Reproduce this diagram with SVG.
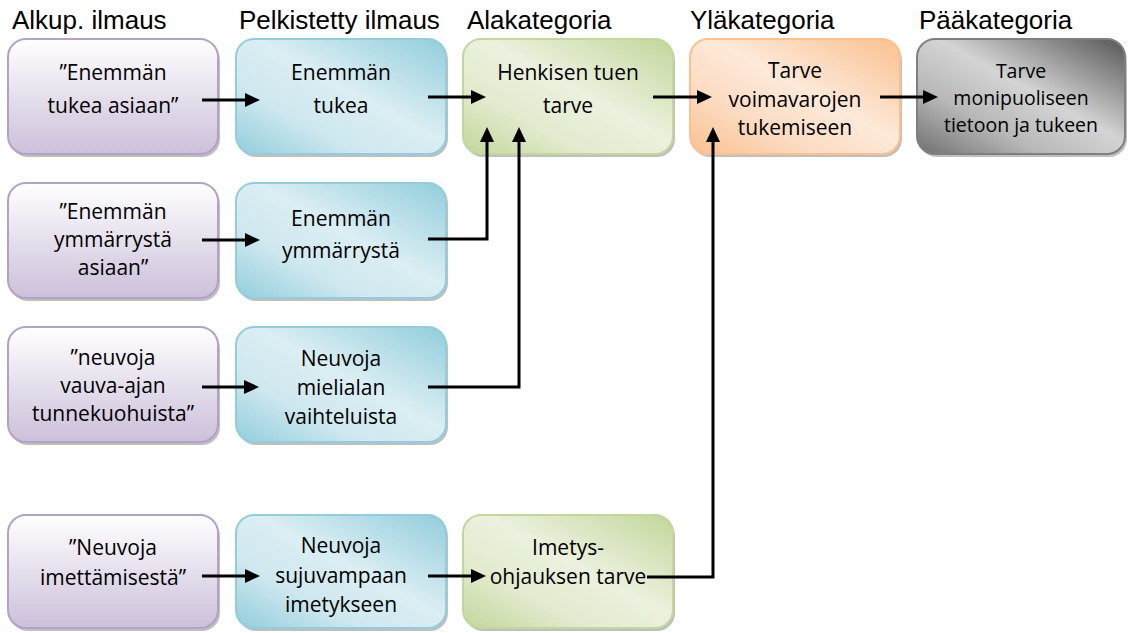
<svg xmlns="http://www.w3.org/2000/svg" width="1129" height="633" viewBox="0 0 1129 633">
<defs>
<style>
.hdr{font-family:"Liberation Sans",Arial,sans-serif;font-size:26px;fill:#000}
.t{font-family:"Open Sans","Noto Sans",sans-serif;font-size:21px;fill:#000;text-anchor:middle}
.ts{font-family:"Open Sans","Noto Sans",sans-serif;font-size:19.5px;fill:#000;text-anchor:middle}
.sh{fill:#000;opacity:0.25}
.pu{fill:url(#gPu);stroke:#b3a2c7;stroke-width:2}
.bl{fill:url(#gBl);stroke:#93cddd;stroke-width:2}
.gr{fill:url(#gGr);stroke:#c3d69b;stroke-width:2}
.or{fill:url(#gOr);stroke:#fac08f;stroke-width:2}
.gy{fill:url(#gGy);stroke:#7f7f7f;stroke-width:2}
.c{fill:none;stroke:#000;stroke-width:3;marker-end:url(#ah)}
</style>
<linearGradient id="gPu" x1="0" y1="0" x2="0" y2="1">
<stop offset="0" stop-color="#ffffff"/><stop offset="1" stop-color="#ccc0da"/>
</linearGradient>
<linearGradient id="gBl" x1="0" y1="1" x2="1" y2="0">
<stop offset="0" stop-color="#92cddc"/><stop offset="0.3" stop-color="#cfe8ef"/><stop offset="0.55" stop-color="#dbeef3"/><stop offset="1" stop-color="#92cddc"/>
</linearGradient>
<linearGradient id="gGr" x1="0" y1="1" x2="1" y2="0">
<stop offset="0" stop-color="#c3d69b"/><stop offset="0.3" stop-color="#e2ebcf"/><stop offset="0.55" stop-color="#ebf1de"/><stop offset="1" stop-color="#c3d69b"/>
</linearGradient>
<linearGradient id="gOr" x1="0" y1="1" x2="1" y2="0">
<stop offset="0" stop-color="#fac08f"/><stop offset="0.3" stop-color="#fcdcc3"/><stop offset="0.55" stop-color="#fde9d9"/><stop offset="1" stop-color="#fac08f"/>
</linearGradient>
<linearGradient id="gGy" x1="0" y1="1" x2="1" y2="0">
<stop offset="0" stop-color="#6f6f6f"/><stop offset="0.3" stop-color="#b8b8b8"/><stop offset="0.55" stop-color="#d4d4d4"/><stop offset="1" stop-color="#555555"/>
</linearGradient>
<marker id="ah" viewBox="0 0 15 14" refX="7" refY="7" markerWidth="15" markerHeight="14" markerUnits="userSpaceOnUse" orient="auto">
<path d="M0,0 L15,7 L0,14 z" fill="#000"/>
</marker>
</defs>
<rect width="1129" height="633" fill="#fff"/>

<g id="headers">
<text class="hdr" x="12" y="29">Alkup. ilmaus</text>
<text class="hdr" x="239" y="29">Pelkistetty ilmaus</text>
<text class="hdr" x="467" y="29">Alakategoria</text>
<text class="hdr" x="690" y="29">Yläkategoria</text>
<text class="hdr" x="919" y="29">Pääkategoria</text>
</g>

<g id="n1">
<rect class="sh" x="10" y="42" width="210" height="115" rx="18"/>
<rect class="pu" x="8" y="39" width="210" height="115" rx="18"/>
<text class="t" x="113" y="80">”Enemmän</text>
<text class="t" x="113" y="113">tukea asiaan”</text>
</g>
<g id="n2">
<rect class="sh" x="238" y="42" width="210" height="115" rx="18"/>
<rect class="bl" x="236" y="39" width="210" height="115" rx="18"/>
<text class="t" x="341" y="80">Enemmän</text>
<text class="t" x="341" y="113">tukea</text>
</g>
<g id="n3">
<rect class="sh" x="465" y="42" width="210" height="115" rx="18"/>
<rect class="gr" x="463" y="39" width="210" height="115" rx="18"/>
<text class="t" x="568" y="80">Henkisen tuen</text>
<text class="t" x="568" y="113">tarve</text>
</g>
<g id="n4">
<rect class="sh" x="692" y="42" width="210" height="115" rx="18"/>
<rect class="or" x="690" y="39" width="210" height="115" rx="18"/>
<text class="t" x="795" y="78">Tarve</text>
<text class="t" x="795" y="107">voimavarojen</text>
<text class="t" x="795" y="135">tukemiseen</text>
</g>
<g id="n5">
<rect class="sh" x="919" y="42" width="208" height="115" rx="18"/>
<rect class="gy" x="917" y="39" width="208" height="115" rx="18"/>
<text class="ts" x="1021" y="78">Tarve</text>
<text class="ts" x="1021" y="105">monipuoliseen</text>
<text class="ts" x="1021" y="132">tietoon ja tukeen</text>
</g>

<g id="n6">
<rect class="sh" x="10" y="186" width="210" height="115" rx="18"/>
<rect class="pu" x="8" y="183" width="210" height="115" rx="18"/>
<text class="t" x="113" y="219">”Enemmän</text>
<text class="t" x="113" y="247">ymmärrystä</text>
<text class="t" x="113" y="275">asiaan”</text>
</g>
<g id="n7">
<rect class="sh" x="238" y="186" width="210" height="115" rx="18"/>
<rect class="bl" x="236" y="183" width="210" height="115" rx="18"/>
<text class="t" x="341" y="226">Enemmän</text>
<text class="t" x="341" y="258">ymmärrystä</text>
</g>

<g id="n8">
<rect class="sh" x="10" y="330" width="210" height="115" rx="18"/>
<rect class="pu" x="8" y="327" width="210" height="115" rx="18"/>
<text class="t" x="113" y="365">”neuvoja</text>
<text class="t" x="113" y="393">vauva-ajan</text>
<text class="t" x="113" y="421">tunnekuohuista”</text>
</g>
<g id="n9">
<rect class="sh" x="238" y="330" width="210" height="115" rx="18"/>
<rect class="bl" x="236" y="327" width="210" height="115" rx="18"/>
<text class="t" x="341" y="366">Neuvoja</text>
<text class="t" x="341" y="395">mielialan</text>
<text class="t" x="341" y="424">vaihteluista</text>
</g>

<g id="n10">
<rect class="sh" x="10" y="518" width="210" height="113" rx="18"/>
<rect class="pu" x="8" y="515" width="210" height="113" rx="18"/>
<text class="t" x="113" y="555">”Neuvoja</text>
<text class="t" x="113" y="585">imettämisestä”</text>
</g>
<g id="n11">
<rect class="sh" x="238" y="518" width="210" height="113" rx="18"/>
<rect class="bl" x="236" y="515" width="210" height="113" rx="18"/>
<text class="t" x="341" y="553">Neuvoja</text>
<text class="t" x="341" y="583">sujuvampaan</text>
<text class="t" x="341" y="612">imetykseen</text>
</g>
<g id="n12">
<rect class="sh" x="465" y="518" width="210" height="113" rx="18"/>
<rect class="gr" x="463" y="515" width="210" height="113" rx="18"/>
<text class="t" x="568" y="555">Imetys-</text>
<text class="t" x="568" y="584">ohjauksen tarve</text>
</g>

<g id="connectors">
<path class="c" d="M202,100 H252"/>
<path class="c" d="M428,97 H478"/>
<path class="c" d="M653,97 H704"/>
<path class="c" d="M880,97 H930"/>
<path class="c" d="M202,240 H252"/>
<path class="c" d="M428,239 H487 V135"/>
<path class="c" d="M202,387 H251"/>
<path class="c" d="M428,387 H519 V135"/>
<path class="c" d="M202,576 H252"/>
<path class="c" d="M428,576 H478"/>
<path class="c" d="M647,577 H713 V135"/>
</g>
</svg>
